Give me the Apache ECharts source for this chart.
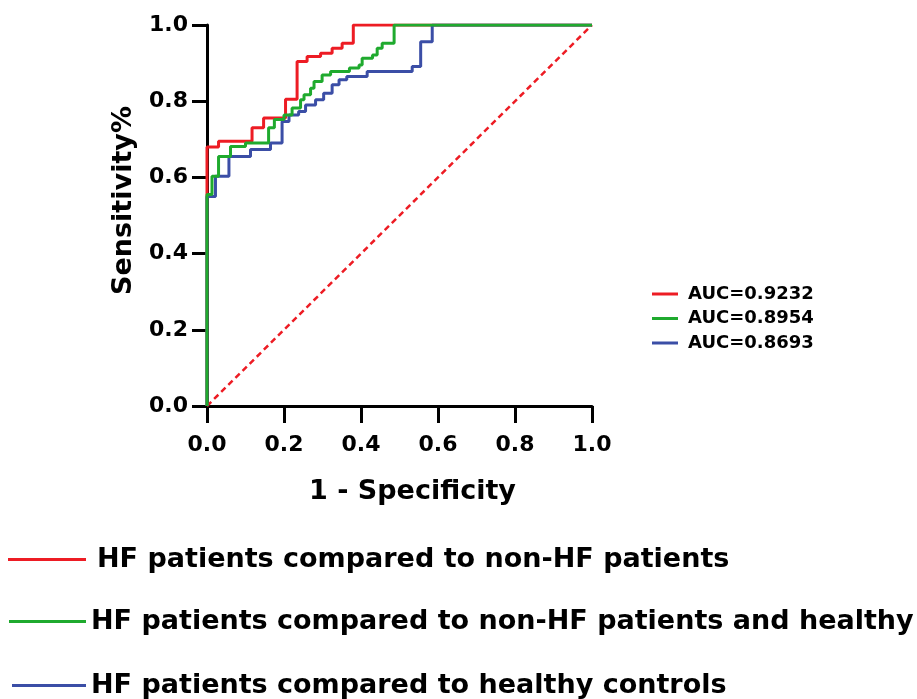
<!DOCTYPE html>
<html>
<head>
<meta charset="utf-8">
<script src="https://cdn.jsdelivr.net/npm/echarts@6/dist/echarts.min.js"></script>
<style>
  html, body { margin: 0; padding: 0; background: #fff; }
  #roc { width: 917px; height: 699px; }
</style>
</head>
<body>
<div id="roc"></div>
<script>
// ROC 曲线数据（从图上读出的拐点：[1-特异度, 灵敏度]）
const seriesNames = [
    'HF patients compared to non-HF patients',
    'HF patients compared to non-HF patients and healthy',
    'HF patients compared to healthy controls'
];
const aucLabels = ['AUC=0.9232', 'AUC=0.8954', 'AUC=0.8693'];
const colors = ['#ED1C24', '#1FAA2E', '#3B4EA6'];
const xTicks = [0, 0.2, 0.4, 0.6, 0.8, 1.0];
const yTicks = [0, 0.2, 0.4, 0.6, 0.8, 1.0];

const redRoc = [
    [0, 0], [0, 0.68], [0.03, 0.695], [0.117, 0.73], [0.147, 0.756], [0.204, 0.805],
    [0.234, 0.904], [0.26, 0.917], [0.295, 0.926], [0.325, 0.939], [0.351, 0.952],
    [0.38, 1.0], [1, 1]
];
const greenRoc = [
    [0, 0], [0, 0.555], [0.013, 0.603], [0.03, 0.655], [0.061, 0.681], [0.1, 0.69],
    [0.16, 0.73], [0.175, 0.752], [0.2, 0.764], [0.221, 0.782], [0.243, 0.804],
    [0.252, 0.817], [0.269, 0.834], [0.278, 0.852], [0.299, 0.869], [0.321, 0.878],
    [0.37, 0.887], [0.395, 0.895], [0.403, 0.913], [0.43, 0.921], [0.442, 0.939],
    [0.455, 0.952], [0.486, 1.0], [1, 1]
];
const blueRoc = [
    [0, 0], [0, 0.55], [0.022, 0.603], [0.057, 0.655], [0.113, 0.673], [0.165, 0.69],
    [0.195, 0.747], [0.213, 0.764], [0.238, 0.773], [0.256, 0.79], [0.282, 0.804],
    [0.303, 0.821], [0.325, 0.843], [0.343, 0.856], [0.363, 0.865], [0.416, 0.878],
    [0.533, 0.891], [0.555, 0.956], [0.585, 1.0], [1, 1]
];
const diagonal = [[0, 0], [1, 1]];

const FONT = 'DejaVu Sans';

function rocSeries(name, data, color, z) {
    return {
        name: name, type: 'line', data: data, step: 'end',
        showSymbol: false, symbol: 'none', z: z,
        lineStyle: { color: color, width: 3 },
        itemStyle: { color: color }
    };
}

// 底部图例：每行单独一个 legend
function bottomLegend(name, left, top, width, pad) {
    return {
        data: [name], left: left, top: top, icon: 'rect', padding: 0,
        itemWidth: width, itemHeight: 3, selectedMode: false,
        textStyle: { fontFamily: FONT, fontWeight: 'bold', fontSize: 27, color: '#000', padding: [0, 0, 0, pad] }
    };
}

const chart = echarts.init(document.getElementById('roc'), null, { renderer: 'canvas' });

const option = {
    animation: false,
    backgroundColor: '#fff',
    grid: { left: 207, top: 25, width: 385, height: 381 },
    legend: [
        bottomLegend(seriesNames[0], 8, 546, 78, 6),
        bottomLegend(seriesNames[1], 9, 608, 77, 0),
        bottomLegend(seriesNames[2], 12, 672, 74, 0),
        {
            data: seriesNames, orient: 'vertical', left: 652, top: 285, padding: 0,
            icon: 'rect', itemWidth: 26, itemHeight: 3, itemGap: 6.5, selectedMode: false,
            formatter: function (name) { return aucLabels[seriesNames.indexOf(name)]; },
            textStyle: { fontFamily: FONT, fontWeight: 'bold', fontSize: 18, lineHeight: 18, color: '#000', padding: [0, 0, 0, 5] }
        }
    ],
    xAxis: {
        type: 'value', min: xTicks[0], max: xTicks[xTicks.length - 1], interval: 0.2,
        name: '1 - Specificity', nameLocation: 'middle', nameGap: 72,
        nameTextStyle: { fontFamily: FONT, fontWeight: 'bold', fontSize: 27, color: '#000', padding: [0, 0, 0, 26] },
        axisLine: { lineStyle: { color: '#000', width: 3 } },
        axisTick: { length: 17, lineStyle: { color: '#000', width: 3 } },
        axisLabel: {
            fontFamily: FONT, fontWeight: 'bold', fontSize: 22, color: '#000', margin: 28,
            formatter: v => v.toFixed(1)
        },
        splitLine: { show: false }
    },
    yAxis: {
        type: 'value', min: yTicks[0], max: yTicks[yTicks.length - 1], interval: 0.2,
        name: 'Sensitivity%', nameLocation: 'middle', nameGap: 70,
        nameTextStyle: { fontFamily: FONT, fontWeight: 'bold', fontSize: 27, color: '#000', padding: [0, 0, 0, 30] },
        axisLine: { lineStyle: { color: '#000', width: 3 } },
        axisTick: { length: 15, lineStyle: { color: '#000', width: 3 } },
        axisLabel: {
            fontFamily: FONT, fontWeight: 'bold', fontSize: 22, color: '#000', margin: 19,
            formatter: v => v.toFixed(1)
        },
        splitLine: { show: false }
    },
    series: [
        {
            name: 'diagonal', type: 'line', data: diagonal, showSymbol: false, symbol: 'none', z: 1,
            lineStyle: { color: colors[0], width: 2.5, type: [6, 4] }
        },
        rocSeries(seriesNames[0], redRoc, colors[0], 2),
        rocSeries(seriesNames[2], blueRoc, colors[2], 3),
        rocSeries(seriesNames[1], greenRoc, colors[1], 4)
    ]
};

chart.setOption(option);
</script>
</body>
</html>
